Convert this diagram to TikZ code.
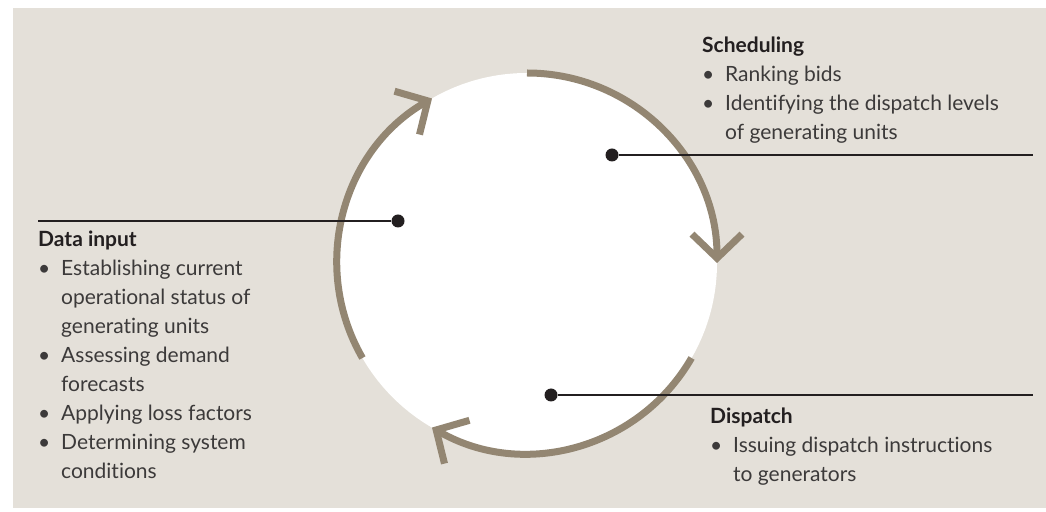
\documentclass[tikz,border=0pt]{standalone}
\usepackage{fontspec}
\setmainfont{Lato}[Ligatures=NoCommon]
\usetikzlibrary{arrows.meta}

\definecolor{paper}{RGB}{228,224,217}
\definecolor{cycle}{RGB}{147,134,114}
\definecolor{ink}{RGB}{35,31,32}
\definecolor{bodyink}{RGB}{60,58,58}

\newcommand{\itm}{\makebox[23pt][l]{\textbullet}}

\begin{document}
\begin{tikzpicture}[x=1pt,y=1pt,
    cyclearc/.style={cycle,line width=7pt,-{Straight Barb[sharp,length=24pt,width=50pt]}},
    dot/.style={circle,fill=ink,inner sep=0pt,minimum size=13pt},
    leader/.style={ink,line width=1.2pt},
    block/.style={anchor=base west,inner sep=0pt,text=bodyink,
        font=\fontsize{21}{29}\selectfont}]
    \useasboundingbox (0,0) rectangle (1046,511);

    % Background and disc
    \fill[paper] (13,3) rectangle (1046,503);
    \fill[white] (527,248) circle (190);

    % Cycle arrows
    \draw[cyclearc] (527,248) ++(90:190) arc[start angle=90,end angle=0,radius=190];
    \draw[cyclearc] (527,248) ++(-30:190) arc[start angle=-30,end angle=-120,radius=190];
    \draw[cyclearc] (527,248) ++(210:190) arc[start angle=210,end angle=120,radius=190];

    % Dots and leader lines
    \node[dot] (dsched) at (612,356) {};
    \node[dot] (ddata) at (398,290) {};
    \node[dot] (ddisp) at (551,116) {};
    \coordinate (esched) at (1033,356);
    \coordinate (edata) at (38,290);
    \coordinate (edisp) at (1033,116);
    \draw[leader] (dsched) -- (esched);
    \draw[leader] (ddata) -- (edata);
    \draw[leader] (ddisp) -- (edisp);

    % Labels
    \node[block] (tsched) at (702,458) {%
        \begin{tabular}[t]{@{}l@{}l@{}}
        \multicolumn{2}{@{}l@{}}{\textcolor{ink}{\bfseries Scheduling}}\\
        \itm & Ranking bids\\
        \itm & Identifying the dispatch levels\\
             & of generating units
        \end{tabular}};
    \node[block] (tdata) at (38,264) {%
        \begin{tabular}[t]{@{}l@{}l@{}}
        \multicolumn{2}{@{}l@{}}{\textcolor{ink}{\bfseries Data input}}\\
        \itm & Establishing current\\
             & operational status of\\
             & generating units\\
        \itm & Assessing demand\\
             & forecasts\\
        \itm & Applying loss factors\\
        \itm & Determining system\\
             & conditions
        \end{tabular}};
    \node[block] (tdisp) at (710,87) {%
        \begin{tabular}[t]{@{}l@{}l@{}}
        \multicolumn{2}{@{}l@{}}{\textcolor{ink}{\bfseries Dispatch}}\\
        \itm & Issuing dispatch instructions\\
             & to generators
        \end{tabular}};
\end{tikzpicture}
\end{document}
